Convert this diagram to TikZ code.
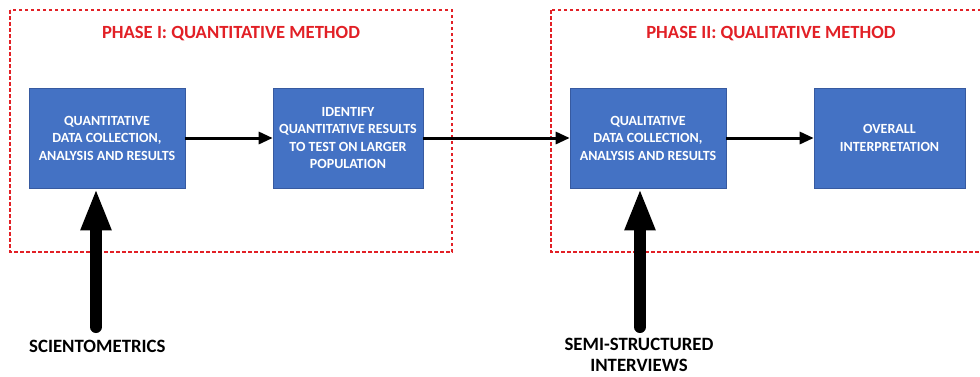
\documentclass[tikz,border=0pt]{standalone}
\usepackage{fontspec}
\setmainfont{Carlito}
\usetikzlibrary{arrows.meta}
\definecolor{boxblue}{RGB}{68,114,196}
\definecolor{boxedge}{RGB}{55,90,160}
\definecolor{phasered}{RGB}{226,32,38}
\tikzset{
  x=1pt, y=-1pt,
  stepbox/.style={draw=boxedge, line width=0.6pt, fill=boxblue, minimum width=155pt, minimum height=100pt,
    text=white, font=\bfseries\fontsize{14}{17.5}\selectfont, align=center, inner sep=0pt},
  phasebox/.style={draw=phasered, line width=2.5pt, dash pattern=on 3.5pt off 2.5pt},
  phasetitle/.style={text=phasered, font=\bfseries\fontsize{18.6}{22}\selectfont, inner sep=0pt},
  flow/.style={line width=3pt, -{Triangle[length=14pt,width=12pt]}},
  thick arrow/.style={line width=12pt, line cap=round, -{Triangle[length=42pt,width=28pt]}},
  srclabel/.style={font=\bfseries\fontsize{18.8}{22}\selectfont, align=center, inner sep=0pt}
}
\begin{document}
\begin{tikzpicture}
\useasboundingbox (0,0) rectangle (980,376);
\clip (0,0) rectangle (980,376);
\fill[white] (0,0) rectangle (980,376);
% phase frames
\draw[phasebox] (10,10) rectangle (452,252);
\draw[phasebox] (551,10) rectangle (1010,252);
\node[phasetitle] (t1) at (231,34) {PHASE I: QUANTITATIVE METHOD};
\node[phasetitle] (t2) at (771,34) {PHASE II: QUALITATIVE METHOD};
% boxes
\node[stepbox, minimum width=156pt] (a) at (107,138) {QUANTITATIVE\\DATA COLLECTION,\\ANALYSIS AND RESULTS};
\node[stepbox, minimum width=150pt] (b) at (348,138) {IDENTIFY\\QUANTITATIVE RESULTS\\TO TEST ON LARGER\\POPULATION};
\node[stepbox, minimum width=156pt] (c) at (648,138) {QUALITATIVE\\DATA COLLECTION,\\ANALYSIS AND RESULTS};
\node[stepbox, minimum width=151pt] (d) at (889.5,138) {OVERALL\\INTERPRETATION};
% flow arrows
\draw[flow] (a) -- (b);
\draw[flow] (b) -- (c);
\draw[flow] (c) -- (d);
% source arrows
\coordinate (s1) at (96,327);
\coordinate (s2) at (640,327);
\draw[thick arrow] (s1) -- (s1 |- a.south);
\draw[thick arrow] (s2) -- (s2 |- c.south);
\node[srclabel, anchor=west] (l1) at (29,346) {SCIENTOMETRICS};
\node[srclabel] (l2) at (639,355) {SEMI-STRUCTURED\\[-0.5pt]INTERVIEWS};
\end{tikzpicture}
\end{document}
